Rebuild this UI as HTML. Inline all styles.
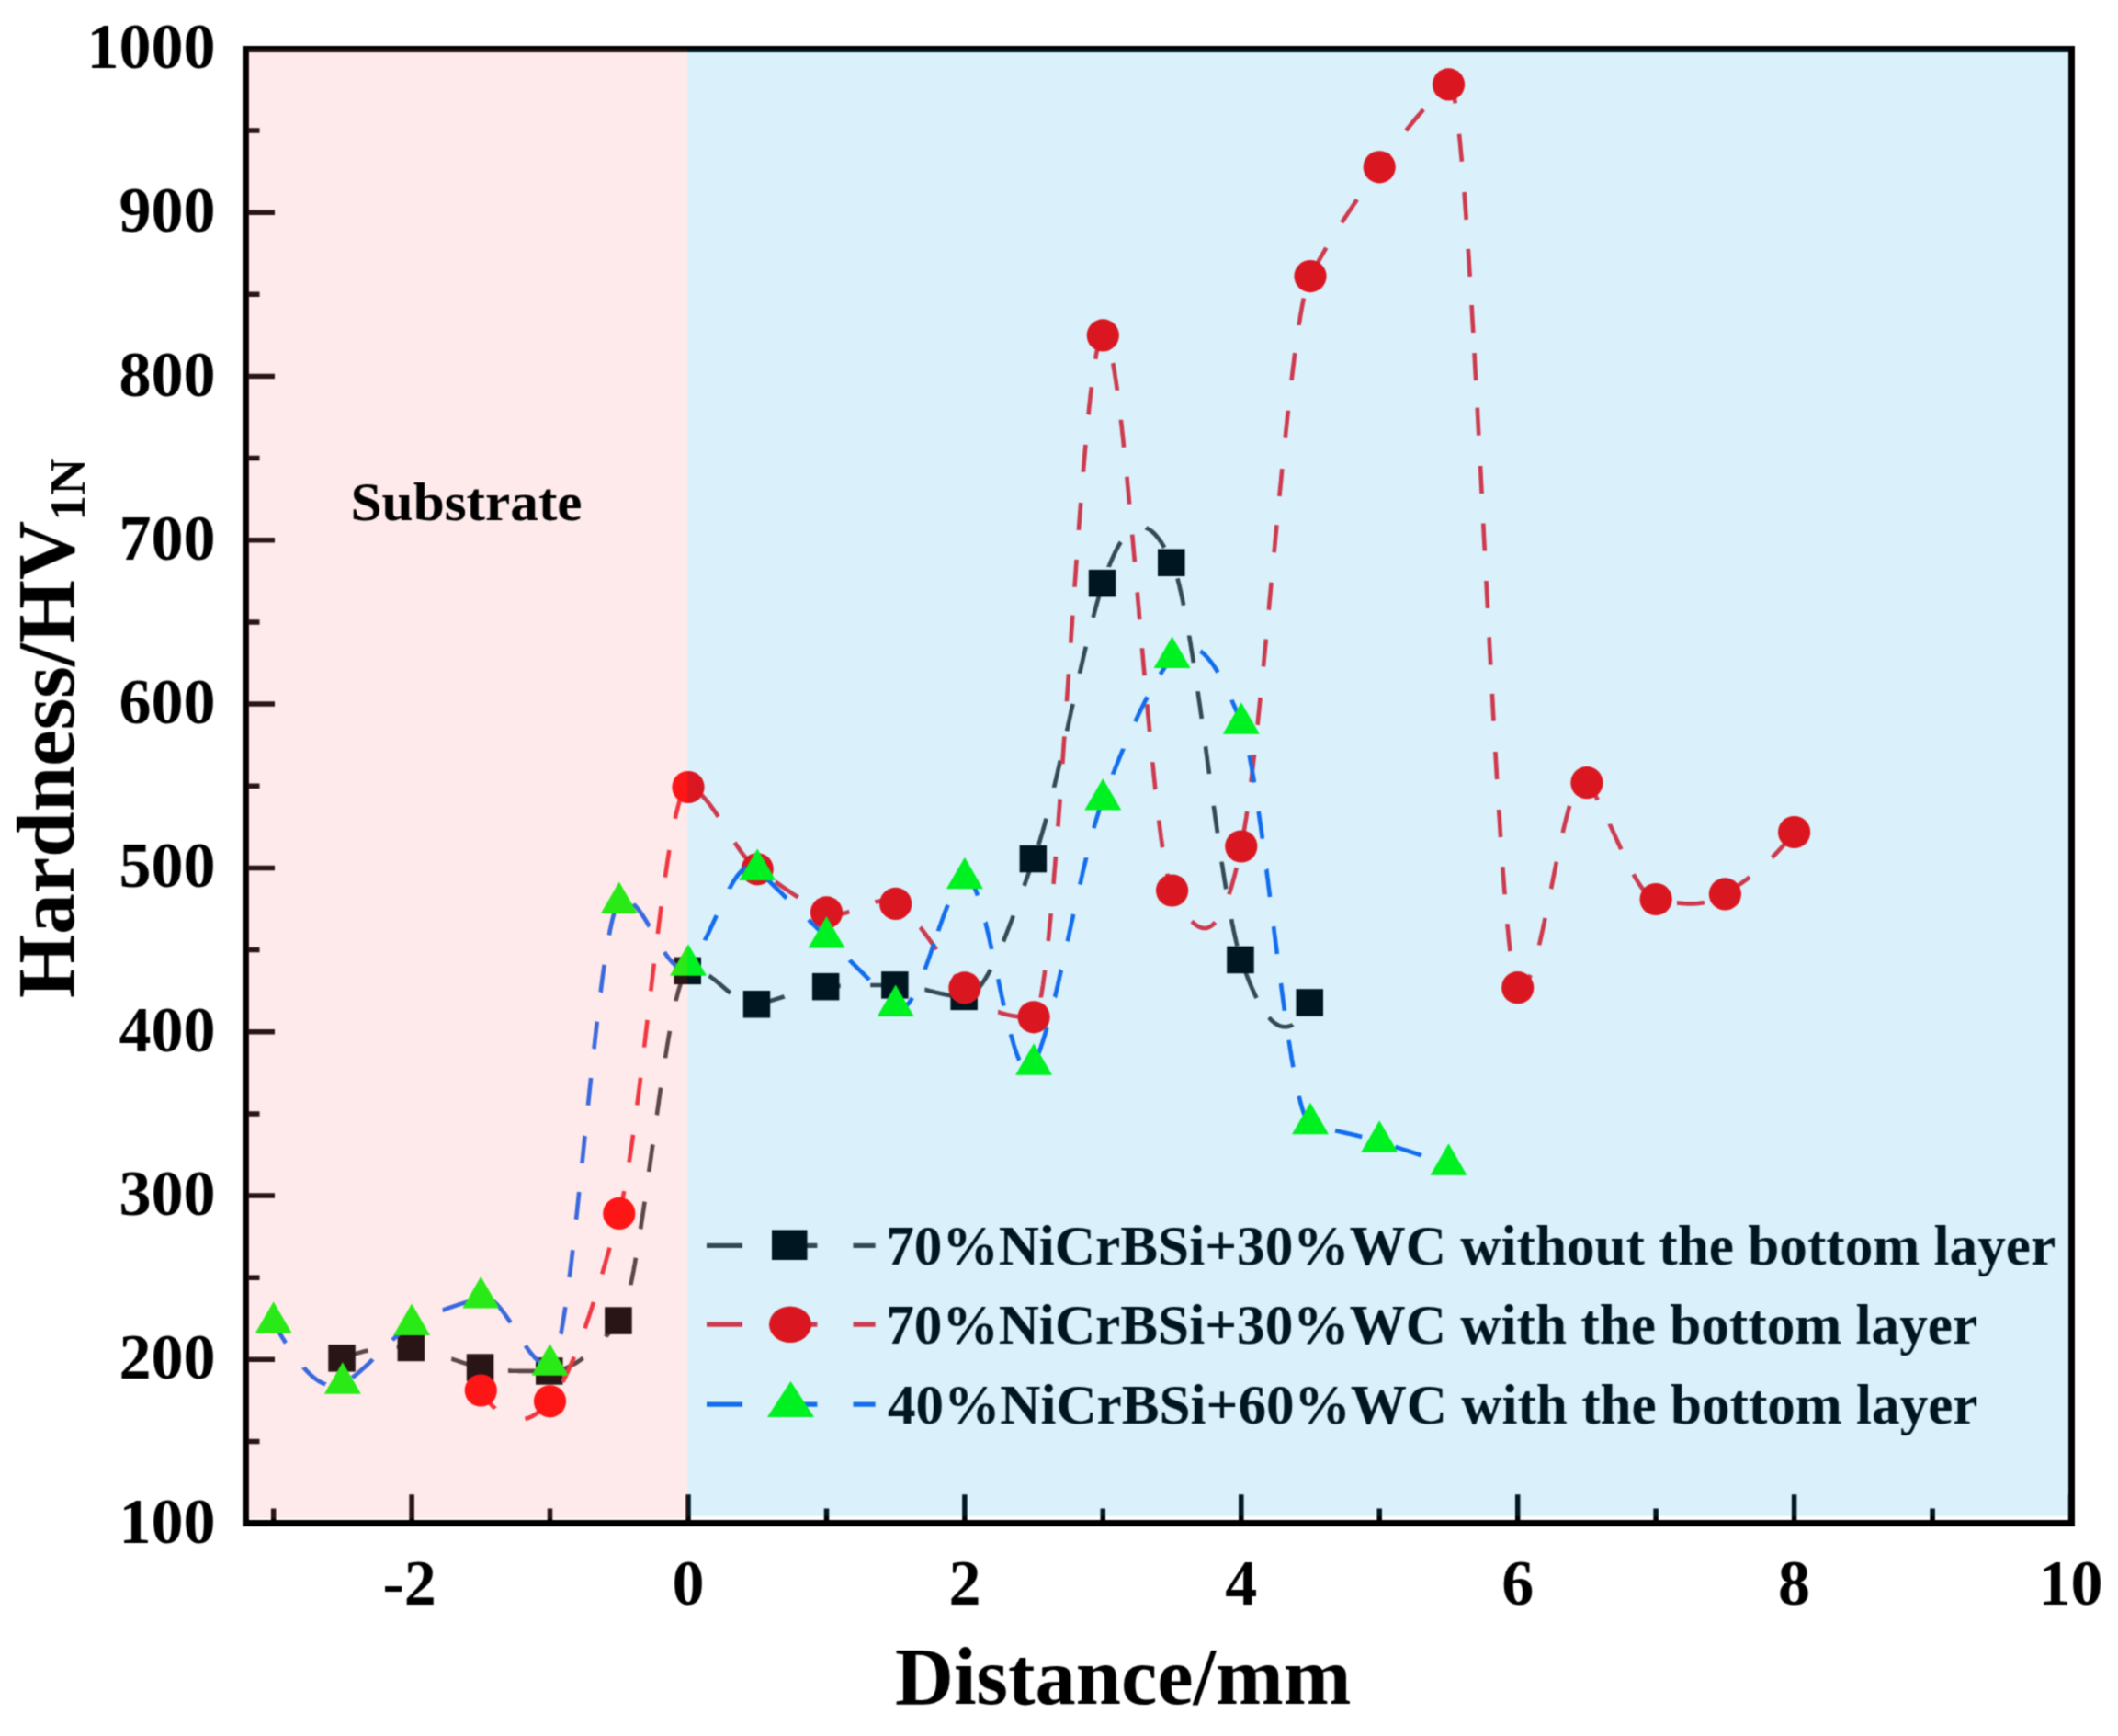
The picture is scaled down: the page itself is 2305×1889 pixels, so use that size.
<!DOCTYPE html><html><head><meta charset="utf-8"><style>html,body{margin:0;padding:0;background:#fff}svg{display:block}text{font-family:"Liberation Serif","Times New Roman",serif;font-weight:bold}</style></head><body>
<svg width="2305" height="1889" viewBox="0 0 2305 1889">
<defs><filter id="soft" x="0" y="0" width="2305" height="1889" filterUnits="userSpaceOnUse" color-interpolation-filters="sRGB"><feConvolveMatrix order="3" kernelMatrix="0.0484 0.1232 0.0484 0.1232 0.3136 0.1232 0.0484 0.1232 0.0484" edgeMode="duplicate"/></filter></defs>
<g filter="url(#soft)">
<rect width="2305" height="1889" fill="#fff"/>
<defs><clipPath id="pc"><rect x="267.5" y="53.5" width="1987.0" height="1604.0"/></clipPath></defs>
<g>
<path d="M267.5 1657.6h31.5 M267.5 1568.5h15 M267.5 1479.3h31.5 M267.5 1390.2h15 M267.5 1301.0h31.5 M267.5 1211.9h15 M267.5 1122.7h31.5 M267.5 1033.5h15 M267.5 944.4h31.5 M267.5 855.2h15 M267.5 766.1h31.5 M267.5 676.9h15 M267.5 587.8h31.5 M267.5 498.6h15 M267.5 409.5h31.5 M267.5 320.3h15 M267.5 231.2h31.5 M267.5 142.0h15 M267.5 52.9h31.5 M297.7 1657.5v-16 M448.1 1657.5v-31.2 M598.5 1657.5v-16 M749.0 1657.5v-31.2 M899.5 1657.5v-16 M1049.9 1657.5v-31.2 M1200.3 1657.5v-16 M1350.8 1657.5v-31.2 M1501.2 1657.5v-16 M1651.7 1657.5v-31.2 M1802.1 1657.5v-16 M1952.6 1657.5v-31.2 M2103.1 1657.5v-16 M2253.5 1657.5v-31.2" stroke="#000" stroke-width="5.5" fill="none"/>
<path d="M372.9 1477.9 L373.1 1477.8 L373.8 1477.5 L374.6 1477.3 L375.3 1477.0 L376.1 1476.7 L376.8 1476.4 L377.6 1476.2 L378.3 1475.9 L379.1 1475.7 L379.8 1475.4 L380.6 1475.1 L381.3 1474.9 L382.1 1474.6 L382.8 1474.4 L383.6 1474.1 L384.3 1473.9 L385.1 1473.7 L385.9 1473.4 L386.6 1473.2 L387.4 1473.0 L388.1 1472.7 L388.9 1472.5 L389.6 1472.3 L390.4 1472.1 L391.1 1471.9 L391.9 1471.6 L392.6 1471.4 L393.4 1471.2 L394.1 1471.0 L394.9 1470.8 L395.6 1470.6 L396.4 1470.4 L397.1 1470.2 L397.9 1470.1 L398.6 1469.9 L399.4 1469.7 L400.1 1469.5 L400.5 1469.4 M431.7 1465.5 L431.7 1465.5 L432.5 1465.5 L433.2 1465.5 L434.0 1465.5 L434.7 1465.5 L435.5 1465.5 L436.3 1465.5 L437.0 1465.5 L437.8 1465.6 L438.5 1465.6 L439.3 1465.6 L440.0 1465.7 L440.8 1465.7 L441.5 1465.8 L442.3 1465.8 L443.0 1465.9 L443.8 1466.0 L444.5 1466.0 L445.3 1466.1 L446.0 1466.2 L446.8 1466.3 L447.5 1466.4 L448.3 1466.5 L449.0 1466.6 L449.8 1466.7 L450.5 1466.8 L451.3 1466.9 L452.0 1467.1 L452.8 1467.2 L453.6 1467.3 L454.3 1467.5 L455.1 1467.6 L455.8 1467.8 L456.6 1467.9 L457.3 1468.1 L458.1 1468.3 L458.8 1468.4 L459.6 1468.6 L460.3 1468.8 L461.1 1469.0 L461.4 1469.1 M491.4 1478.6 L491.5 1478.6 L492.3 1478.9 L493.0 1479.2 L493.8 1479.4 L494.6 1479.7 L495.3 1479.9 L496.1 1480.2 L496.8 1480.4 L497.6 1480.7 L498.3 1481.0 L499.1 1481.2 L499.8 1481.5 L500.6 1481.7 L501.3 1482.0 L502.1 1482.2 L502.8 1482.5 L503.6 1482.7 L504.3 1482.9 L505.1 1483.2 L505.8 1483.4 L506.6 1483.6 L507.3 1483.9 L508.1 1484.1 L508.8 1484.3 L509.6 1484.6 L510.3 1484.8 L511.1 1485.0 L511.9 1485.2 L512.6 1485.4 L513.4 1485.6 L514.1 1485.8 L514.9 1486.0 L515.6 1486.2 L516.4 1486.4 L517.1 1486.6 L517.9 1486.8 L518.6 1487.0 L519.4 1487.2 L520.0 1487.3 M552.9 1491.5 L553.0 1491.5 L553.8 1491.5 L554.5 1491.6 L555.3 1491.6 L556.0 1491.6 L556.8 1491.7 L557.6 1491.7 L558.3 1491.7 L559.1 1491.7 L559.8 1491.8 L560.6 1491.8 L561.3 1491.8 L562.1 1491.8 L562.8 1491.8 L563.6 1491.8 L564.3 1491.9 L565.1 1491.9 L565.8 1491.9 L566.6 1491.9 L567.3 1491.9 L568.1 1491.9 L568.8 1491.9 L569.6 1491.9 L570.3 1491.9 L571.1 1491.9 L571.8 1491.9 L572.6 1491.9 L573.3 1491.9 L574.1 1491.9 L574.9 1491.9 L575.6 1491.9 L576.4 1491.9 L577.1 1491.9 L577.9 1491.9 L578.6 1491.9 L579.4 1491.9 L580.1 1491.9 L580.9 1491.9 L581.6 1491.9 L582.4 1491.9 L582.8 1491.9 M608.0 1491.0 L608.1 1490.9 L608.9 1490.8 L609.6 1490.6 L610.4 1490.4 L611.2 1490.2 L611.9 1490.0 L612.7 1489.7 L613.4 1489.5 L614.2 1489.2 L614.9 1488.9 L615.7 1488.7 L616.4 1488.4 L617.2 1488.0 L617.9 1487.7 L618.7 1487.4 L619.4 1487.0 L620.2 1486.7 L620.9 1486.3 L621.7 1485.9 L622.4 1485.5 L623.2 1485.1 L623.9 1484.7 L624.7 1484.3 L625.4 1483.9 L626.2 1483.4 L626.9 1483.0 L627.7 1482.5 L628.5 1482.0 L629.2 1481.5 L630.0 1481.0 L630.7 1480.5 L631.5 1480.0 L632.2 1479.5 L633.0 1478.9 L633.7 1478.4 L634.5 1477.8 L634.7 1477.7 M659.2 1454.5 L659.3 1454.3 L660.0 1453.5 L660.8 1452.6 L661.6 1451.8 L662.3 1450.9 L663.1 1450.1 L663.8 1449.2 L664.6 1448.3 L665.3 1447.4 L666.1 1446.5 L666.8 1445.6 L667.6 1444.7 L668.3 1443.8 L669.1 1442.9 L669.8 1442.0 L670.6 1441.0 L671.3 1440.1 L672.1 1439.2 L672.8 1438.2 L673.6 1437.3 L674.3 1436.3 L675.1 1435.1 L675.8 1433.7 L676.6 1432.2 L677.3 1430.7 M686.4 1398.2 L686.4 1398.1 L687.1 1394.5 L687.9 1390.8 L688.6 1387.0 L689.4 1383.1 L690.1 1379.1 L690.9 1374.9 L691.6 1370.7 L692.0 1368.7 M697.1 1337.3 L697.3 1336.3 L698.0 1331.4 L698.8 1326.5 L699.5 1321.4 L700.3 1316.4 L701.0 1311.3 L701.6 1307.7 M706.2 1275.0 L706.3 1274.3 L707.1 1269.0 L707.8 1263.6 L708.6 1258.2 L709.3 1252.7 L710.1 1247.3 L710.4 1245.3 M714.8 1213.4 L715.0 1212.3 L715.7 1207.0 L716.5 1201.7 L717.2 1196.4 L718.0 1191.2 L718.7 1186.0 L719.1 1183.7 M724.0 1151.3 L724.0 1151.2 L724.7 1146.5 L725.5 1141.9 L726.2 1137.3 L727.0 1132.8 L727.7 1128.4 L728.5 1124.1 L728.9 1121.8 M735.5 1089.3 L735.6 1088.5 L736.4 1085.4 L737.2 1082.5 L737.9 1079.6 L738.7 1076.9 L739.4 1074.4 L740.2 1072.0 L740.9 1069.7 L741.7 1067.6 L742.4 1065.7 L743.2 1064.0 L743.9 1062.4 L744.7 1060.9 L744.7 1060.9 M771.6 1061.7 L771.8 1061.8 L772.5 1062.4 L773.3 1062.9 L774.0 1063.4 L774.8 1064.0 L775.5 1064.5 L776.3 1065.1 L777.0 1065.7 L777.8 1066.2 L778.5 1066.8 L779.3 1067.4 L780.0 1068.1 L780.8 1068.7 L781.5 1069.3 L782.3 1069.9 L783.0 1070.6 L783.8 1071.2 L784.5 1071.9 L785.3 1072.5 L786.0 1073.1 L786.8 1073.8 L787.6 1074.4 L788.3 1075.1 L789.1 1075.7 L789.8 1076.4 L790.6 1077.0 L791.3 1077.7 L792.1 1078.3 L792.8 1078.9 L793.6 1079.6 L794.3 1080.2 L794.8 1080.6 M824.7 1092.6 L824.8 1092.6 L825.5 1092.4 L826.3 1092.3 L827.0 1092.1 L827.8 1091.9 L828.6 1091.7 L829.3 1091.5 L830.1 1091.3 L830.8 1091.1 L831.6 1090.9 L832.3 1090.7 L833.1 1090.5 L833.8 1090.3 L834.6 1090.1 L835.3 1089.9 L836.1 1089.7 L836.8 1089.5 L837.6 1089.3 L838.3 1089.0 L839.1 1088.8 L839.8 1088.6 L840.6 1088.4 L841.3 1088.2 L842.1 1087.9 L842.8 1087.7 L843.6 1087.5 L844.3 1087.2 L845.1 1087.0 L845.9 1086.8 L846.6 1086.5 L847.4 1086.3 L848.1 1086.1 L848.9 1085.8 L849.6 1085.6 L850.4 1085.4 L851.1 1085.1 L851.9 1084.9 L852.6 1084.6 L853.4 1084.4 L853.6 1084.3 M884.9 1075.7 L885.0 1075.7 L885.7 1075.5 L886.5 1075.4 L887.2 1075.2 L888.0 1075.1 L888.7 1075.0 L889.5 1074.9 L890.2 1074.7 L891.0 1074.6 L891.7 1074.5 L892.5 1074.4 L893.2 1074.3 L894.0 1074.2 L894.7 1074.1 L895.5 1074.0 L896.3 1073.9 L897.0 1073.9 L897.8 1073.8 L898.5 1073.7 L899.3 1073.7 L900.0 1073.6 L900.8 1073.6 L901.5 1073.5 L902.3 1073.5 L903.0 1073.4 L903.8 1073.4 L904.5 1073.3 L905.3 1073.3 L906.0 1073.2 L906.8 1073.2 L907.5 1073.2 L908.3 1073.1 L909.0 1073.1 L909.8 1073.0 L910.5 1073.0 L911.3 1073.0 L912.1 1072.9 L912.8 1072.9 L913.6 1072.9 L914.3 1072.8 L914.7 1072.8 M947.2 1072.0 L947.4 1072.0 L948.2 1072.0 L948.9 1072.0 L949.7 1072.0 L950.4 1072.0 L951.2 1072.0 L951.9 1072.0 L952.7 1072.0 L953.4 1072.0 L954.2 1072.0 L954.9 1072.0 L955.7 1072.0 L956.4 1072.0 L957.2 1072.0 L957.9 1072.0 L958.7 1072.0 L959.4 1072.0 L960.2 1071.9 L960.9 1071.9 L961.7 1071.9 L962.5 1071.9 L963.2 1071.9 L964.0 1071.9 L964.7 1071.9 L965.5 1071.9 L966.2 1071.9 L967.0 1071.9 L967.7 1071.9 L968.5 1071.9 L969.2 1071.9 L970.0 1071.9 L970.7 1071.9 L971.5 1071.9 L972.2 1071.9 L973.0 1071.9 L973.7 1071.9 L974.5 1071.9 L975.2 1071.9 L976.0 1071.9 L976.7 1071.9 L977.2 1071.9 M1006.5 1076.8 L1006.6 1076.8 L1007.4 1077.0 L1008.2 1077.2 L1008.9 1077.4 L1009.7 1077.6 L1010.4 1077.8 L1011.2 1078.0 L1011.9 1078.2 L1012.7 1078.4 L1013.4 1078.6 L1014.2 1078.8 L1014.9 1078.9 L1015.7 1079.1 L1016.4 1079.3 L1017.2 1079.5 L1017.9 1079.7 L1018.7 1079.9 L1019.4 1080.1 L1020.2 1080.3 L1020.9 1080.4 L1021.7 1080.6 L1022.4 1080.8 L1023.2 1081.0 L1023.9 1081.1 L1024.7 1081.3 L1025.5 1081.5 L1026.2 1081.6 L1027.0 1081.8 L1027.7 1082.0 L1028.5 1082.1 L1029.2 1082.3 L1030.0 1082.4 L1030.7 1082.6 L1031.5 1082.7 L1032.2 1082.8 L1033.0 1083.0 L1033.7 1083.1 L1034.5 1083.2 L1035.2 1083.3 L1035.8 1083.4 M1060.7 1079.5 L1060.8 1079.4 L1061.6 1078.7 L1062.3 1078.0 L1063.1 1077.2 L1063.8 1076.4 L1064.6 1075.6 L1065.3 1074.7 L1066.1 1073.8 L1066.8 1072.9 L1067.6 1071.9 L1068.3 1070.9 L1069.1 1069.8 L1069.8 1068.7 L1070.6 1067.6 L1071.3 1066.5 L1072.1 1065.3 L1072.8 1064.1 L1073.6 1062.9 L1074.3 1061.6 L1075.1 1060.3 L1075.9 1058.9 L1076.6 1057.6 L1077.4 1056.2 L1077.9 1055.1 M1091.9 1024.4 L1092.0 1024.2 L1092.8 1022.4 L1093.5 1020.5 L1094.3 1018.6 L1095.0 1016.7 L1095.8 1014.8 L1096.5 1012.9 L1097.3 1010.9 L1098.0 1009.0 L1098.8 1007.0 L1099.5 1005.0 L1100.3 1003.0 L1101.1 1001.0 L1101.8 999.0 L1102.6 997.0 L1102.8 996.4 M1114.6 963.8 L1114.8 963.3 L1115.5 961.2 L1116.3 959.1 L1117.0 957.0 L1117.8 954.9 L1118.5 952.8 L1119.3 950.7 L1120.0 948.6 L1120.8 946.5 L1121.6 944.4 L1122.3 942.3 L1123.1 940.3 L1123.8 938.2 L1124.6 936.1 L1124.8 935.6 M1130.3 919.4 L1130.4 919.0 L1131.1 916.6 L1131.9 914.2 L1132.6 911.7 L1133.4 909.1 L1134.2 906.5 L1134.9 903.9 L1135.7 901.3 L1136.4 898.6 L1137.2 895.8 L1137.9 893.1 L1138.6 890.6 M1147.1 856.7 L1147.1 856.6 L1147.9 853.4 L1148.6 850.2 L1149.4 847.0 L1150.1 843.8 L1150.9 840.6 L1151.6 837.3 L1152.4 834.1 L1153.1 830.8 L1153.9 827.5 L1153.9 827.5 M1161.1 795.3 L1161.2 794.7 L1162.0 791.3 L1162.7 787.9 L1163.5 784.5 L1164.2 781.1 L1165.0 777.6 L1165.7 774.2 L1166.5 770.8 L1167.3 767.4 L1167.6 766.0 M1175.0 732.8 L1175.1 732.0 L1175.9 728.7 L1176.7 725.4 L1177.4 722.1 L1178.2 718.9 L1178.9 715.6 L1179.7 712.4 L1180.4 709.2 L1181.2 706.0 L1181.7 703.6 M1189.6 671.9 L1189.8 671.1 L1190.6 668.3 L1191.3 665.5 L1192.1 662.7 L1192.8 660.0 L1193.6 657.2 L1194.3 654.6 L1195.1 651.9 L1195.8 649.4 L1196.6 646.8 L1197.3 644.3 L1197.7 643.0 M1206.7 616.9 L1206.7 616.7 L1207.5 614.8 L1208.2 612.9 L1209.0 611.1 L1209.8 609.3 L1210.5 607.6 L1211.3 605.9 L1212.0 604.3 L1212.8 602.7 L1213.5 601.1 L1214.3 599.6 L1215.0 598.1 L1215.8 596.7 L1216.5 595.3 L1217.3 594.0 L1218.0 592.7 L1218.8 591.4 L1219.5 590.2 L1219.7 589.9 M1247.1 574.3 L1247.2 574.4 L1247.9 574.7 L1248.7 575.1 L1249.4 575.5 L1250.2 575.9 L1250.9 576.4 L1251.7 576.9 L1252.4 577.4 L1253.2 578.0 L1253.9 578.6 L1254.7 579.3 L1255.5 580.0 L1256.2 580.7 L1257.0 581.5 L1257.7 582.3 L1258.5 583.2 L1259.2 584.1 L1260.0 585.0 L1260.7 585.9 L1261.5 586.9 L1262.2 588.0 L1263.0 589.0 L1263.7 590.1 L1264.5 591.3 L1265.2 592.5 L1266.0 593.7 L1266.7 594.9 L1267.3 595.8 M1281.4 629.4 L1281.4 629.4 L1282.2 632.2 L1282.9 635.2 L1283.7 638.2 L1284.4 641.4 L1285.2 644.6 L1285.9 648.0 L1286.7 651.5 L1287.4 655.1 L1288.1 658.6 M1294.2 691.5 L1294.2 691.8 L1294.9 696.3 L1295.7 700.8 L1296.4 705.5 L1297.2 710.2 L1298.0 715.0 L1298.7 719.8 L1298.9 721.1 M1303.6 752.3 L1303.6 752.6 L1304.3 757.8 L1305.1 763.1 L1305.9 768.4 L1306.6 773.7 L1307.4 779.1 L1307.8 782.0 M1311.9 812.3 L1312.1 813.1 L1312.8 818.6 L1313.6 824.1 L1314.3 829.6 L1315.1 835.1 L1315.8 840.6 L1316.0 842.0 M1320.8 876.7 L1320.9 877.6 L1321.7 883.0 L1322.4 888.3 L1323.2 893.7 L1323.9 899.0 L1324.7 904.3 L1325.0 906.4 M1329.6 937.6 L1329.7 938.8 L1330.5 943.7 L1331.2 948.5 L1332.0 953.3 L1332.7 958.0 L1333.5 962.7 L1334.2 967.3 M1340.1 1000.1 L1340.3 1001.1 L1341.0 1004.9 L1341.8 1008.6 L1342.5 1012.2 L1343.3 1015.7 L1344.0 1019.1 L1344.8 1022.4 L1345.5 1025.6 L1346.3 1028.7 L1346.5 1029.4 M1355.8 1058.4 L1355.9 1058.8 L1356.6 1060.8 L1357.4 1062.7 L1358.1 1064.7 L1358.9 1066.6 L1359.6 1068.4 L1360.4 1070.3 L1361.1 1072.1 L1361.9 1073.8 L1362.6 1075.6 L1363.4 1077.3 L1364.2 1078.9 L1364.9 1080.6 L1365.7 1082.2 L1366.4 1083.7 L1367.2 1085.3 L1367.5 1086.0 M1380.9 1107.1 L1381.1 1107.3 L1381.8 1108.1 L1382.6 1108.9 L1383.3 1109.7 L1384.1 1110.4 L1384.8 1111.1 L1385.6 1111.8 L1386.3 1112.4 L1387.1 1113.0 L1387.8 1113.5 L1388.6 1114.0 L1389.4 1114.5 L1390.1 1115.0 L1390.9 1115.4 L1391.6 1115.7 L1392.4 1116.1 L1393.1 1116.4 L1393.9 1116.6 L1394.6 1116.8 L1395.4 1117.0 L1396.1 1117.1 L1396.9 1117.2 L1397.6 1117.3 L1398.4 1117.3 L1399.1 1117.3 L1399.9 1117.3 L1400.6 1117.2 L1401.4 1117.0 L1402.1 1116.9 L1402.9 1116.7 L1403.6 1116.4 L1404.4 1116.2 L1405.2 1115.8 L1405.9 1115.5 L1406.7 1115.1 L1407.0 1114.8" fill="none" stroke="#3c3c3c" stroke-width="4.6" stroke-linecap="butt" stroke-linejoin="round"/>
<rect x="357.3" y="1463.1" width="29.5" height="29.5" fill="#000000"/>
<rect x="432.6" y="1451.7" width="29.5" height="29.5" fill="#000000"/>
<rect x="507.8" y="1473.3" width="29.5" height="29.5" fill="#000000"/>
<rect x="583.0" y="1477.2" width="29.5" height="29.5" fill="#000000"/>
<rect x="658.2" y="1422.3" width="29.5" height="29.5" fill="#000000"/>
<rect x="733.5" y="1041.6" width="29.5" height="29.5" fill="#000000"/>
<rect x="808.7" y="1078.0" width="29.5" height="29.5" fill="#000000"/>
<rect x="883.9" y="1058.9" width="29.5" height="29.5" fill="#000000"/>
<rect x="959.1" y="1057.1" width="29.5" height="29.5" fill="#000000"/>
<rect x="1034.4" y="1069.6" width="29.5" height="29.5" fill="#000000"/>
<rect x="1109.6" y="919.8" width="29.5" height="29.5" fill="#000000"/>
<rect x="1184.8" y="619.9" width="29.5" height="29.5" fill="#000000"/>
<rect x="1260.0" y="597.5" width="29.5" height="29.5" fill="#000000"/>
<rect x="1335.2" y="1029.7" width="29.5" height="29.5" fill="#000000"/>
<rect x="1410.5" y="1076.2" width="29.5" height="29.5" fill="#000000"/>
<path d="M523.3 1513.0 L523.5 1513.3 L524.3 1514.5 L525.0 1515.6 L525.8 1516.8 L526.5 1517.9 L527.3 1519.0 L528.0 1520.0 L528.8 1521.1 L529.5 1522.1 L530.3 1523.1 L531.0 1524.1 L531.8 1525.0 L532.5 1525.9 L533.3 1526.8 L534.0 1527.7 L534.8 1528.6 L535.5 1529.4 L536.3 1530.2 L537.1 1531.0 L537.8 1531.8 L538.6 1532.5 L538.7 1532.7 M571.5 1544.0 L571.5 1544.0 L572.2 1543.8 L573.0 1543.5 L573.7 1543.3 L574.5 1543.1 L575.2 1542.8 L576.0 1542.5 L576.7 1542.2 L577.5 1541.8 L578.2 1541.5 L579.0 1541.1 L579.7 1540.7 L580.5 1540.3 L581.2 1539.8 L582.0 1539.4 L582.8 1538.9 L583.5 1538.4 L584.3 1537.9 L585.0 1537.4 L585.8 1536.9 L586.5 1536.3 L587.3 1535.7 L588.0 1535.1 L588.8 1534.5 L589.5 1533.8 L590.3 1533.2 L591.0 1532.5 L591.8 1531.8 L592.5 1531.1 L593.3 1530.4 L594.0 1529.6 L594.8 1528.9 L595.5 1528.1 L596.1 1527.5 M612.4 1503.7 L612.5 1503.5 L613.2 1502.1 L614.0 1500.6 L614.7 1499.1 L615.5 1497.6 L616.2 1496.0 L617.0 1494.5 L617.7 1492.9 L618.5 1491.3 L619.2 1489.6 L620.0 1487.9 L620.7 1486.3 L621.5 1484.5 L622.2 1482.8 L623.0 1481.0 L623.8 1479.2 L624.5 1477.4 L624.9 1476.5 M636.5 1445.4 L636.5 1445.4 L637.3 1443.2 L638.0 1441.0 L638.8 1438.8 L639.5 1436.6 L640.3 1434.3 L641.1 1432.1 L641.8 1429.8 L642.6 1427.5 L643.3 1425.2 L644.1 1422.8 L644.8 1420.5 L645.6 1418.1 L645.9 1416.9 M655.2 1386.4 L655.3 1386.0 L656.1 1383.5 L656.8 1380.9 L657.6 1378.3 L658.4 1375.7 L659.1 1373.1 L659.9 1370.5 L660.6 1367.9 L661.4 1365.2 L662.1 1362.6 L662.9 1359.9 L663.5 1357.6 M672.4 1325.3 L672.5 1325.3 L673.2 1322.5 L674.0 1319.7 L674.7 1316.8 L675.5 1313.8 L676.2 1310.5 L677.0 1307.2 L677.7 1303.6 L678.5 1300.0 L679.2 1296.1 M684.7 1264.6 L684.7 1264.4 L685.4 1259.5 L686.2 1254.5 L686.9 1249.5 L687.7 1244.3 L688.4 1239.0 L689.0 1234.9 M693.3 1202.5 L693.5 1201.1 L694.3 1195.2 L695.0 1189.3 L695.8 1183.3 L696.5 1177.2 L697.1 1172.8 M701.1 1139.7 L701.2 1138.3 L702.0 1132.0 L702.7 1125.6 L703.5 1119.3 L704.2 1112.9 L704.6 1109.9 M708.3 1078.3 L708.4 1077.7 L709.1 1071.3 L709.9 1065.0 L710.6 1058.6 L711.4 1052.3 L711.8 1048.5 M715.8 1016.1 L715.9 1015.2 L716.7 1009.2 L717.4 1003.2 L718.2 997.3 L718.9 991.5 L719.6 986.3 M723.9 954.6 L724.0 954.0 L724.7 948.8 L725.5 943.7 L726.2 938.7 L727.0 933.8 L727.7 929.1 L728.4 925.0 M734.7 890.8 L734.9 889.9 L735.6 886.5 L736.4 883.3 L737.2 880.3 L737.9 877.4 L738.7 874.7 L739.4 872.1 L740.2 869.7 L740.9 867.6 L741.7 865.5 L742.4 863.7 L743.2 862.1 L743.2 862.1 M763.4 865.0 L763.5 865.1 L764.2 865.9 L765.0 866.6 L765.7 867.4 L766.5 868.3 L767.2 869.1 L768.0 870.0 L768.7 870.8 L769.5 871.7 L770.3 872.7 L771.0 873.6 L771.8 874.6 L772.5 875.5 L773.3 876.5 L774.0 877.6 L774.8 878.6 L775.5 879.6 L776.3 880.7 L777.0 881.8 L777.8 882.8 L778.5 883.9 L779.3 885.0 L780.0 886.2 L780.8 887.3 L781.5 888.4 L781.7 888.7 M799.6 916.7 L799.8 917.0 L800.5 918.1 L801.3 919.2 L802.0 920.3 L802.8 921.5 L803.5 922.6 L804.3 923.6 L805.0 924.7 L805.8 925.8 L806.5 926.8 L807.3 927.9 L808.1 928.9 L808.8 929.9 L809.6 930.9 L810.3 931.9 L811.1 932.8 L811.8 933.7 L812.6 934.7 L813.3 935.5 L814.1 936.4 L814.8 937.3 L815.6 938.1 L816.3 938.9 L817.1 939.7 L817.8 940.4 M843.8 959.5 L844.0 959.6 L844.7 960.1 L845.5 960.6 L846.2 961.2 L847.0 961.7 L847.7 962.2 L848.5 962.8 L849.2 963.3 L850.0 963.8 L850.7 964.3 L851.5 964.9 L852.2 965.4 L853.0 965.9 L853.8 966.4 L854.5 967.0 L855.3 967.5 L856.0 968.0 L856.8 968.5 L857.5 969.0 L858.3 969.5 L859.0 970.0 L859.8 970.5 L860.5 971.1 L861.3 971.6 L862.0 972.1 L862.8 972.6 L863.5 973.1 L864.3 973.6 L865.0 974.1 L865.8 974.5 L866.5 975.0 L867.3 975.5 L868.0 976.0 L868.6 976.4 M895.2 991.1 L895.3 991.1 L896.1 991.5 L896.8 991.8 L897.6 992.1 L898.3 992.4 L899.1 992.7 L899.8 993.0 L900.6 993.3 L901.3 993.6 L902.1 993.8 L902.8 994.0 L903.6 994.2 L904.3 994.4 L905.1 994.5 L905.8 994.6 L906.6 994.7 L907.3 994.8 L908.1 994.8 L908.9 994.9 L909.6 994.9 L910.4 994.9 L911.1 994.8 L911.9 994.8 L912.6 994.7 L913.4 994.7 L914.1 994.6 L914.9 994.5 L915.6 994.4 L916.4 994.2 L917.1 994.1 L917.9 993.9 L918.6 993.7 L919.4 993.6 L920.1 993.4 L920.9 993.2 L921.6 992.9 L922.4 992.7 L923.1 992.5 L923.9 992.2 L924.3 992.1 M952.5 981.5 L952.5 981.5 L953.2 981.3 L954.0 981.1 L954.7 981.0 L955.5 980.8 L956.2 980.7 L957.0 980.6 L957.7 980.5 L958.5 980.4 L959.3 980.3 L960.0 980.3 L960.8 980.3 L961.5 980.3 L962.3 980.3 L963.0 980.3 L963.8 980.3 L964.5 980.4 L965.3 980.5 L966.0 980.6 L966.8 980.7 L967.5 980.8 L968.3 981.0 L969.0 981.2 L969.8 981.4 L970.5 981.7 L971.3 981.9 L972.0 982.2 L972.8 982.5 L973.5 982.9 L974.3 983.3 L975.1 983.6 L975.8 984.1 L976.6 984.5 L977.3 985.0 L978.1 985.5 L978.8 986.0 L979.6 986.5 L980.3 987.0 L980.7 987.3 M1001.5 1009.0 L1001.6 1009.1 L1002.3 1010.0 L1003.1 1011.0 L1003.8 1012.0 L1004.6 1013.0 L1005.3 1014.0 L1006.1 1015.0 L1006.8 1016.0 L1007.6 1017.0 L1008.3 1018.1 L1009.1 1019.1 L1009.8 1020.1 L1010.6 1021.2 L1011.3 1022.2 L1012.1 1023.3 L1012.9 1024.4 L1013.6 1025.4 L1014.4 1026.5 L1015.1 1027.6 L1015.9 1028.7 L1016.6 1029.7 L1017.4 1030.8 L1018.1 1031.9 L1018.9 1033.0 L1019.1 1033.3 M1038.4 1060.7 L1038.4 1060.7 L1039.2 1061.7 L1039.9 1062.7 L1040.7 1063.7 L1041.4 1064.7 L1042.2 1065.6 L1042.9 1066.6 L1043.7 1067.5 L1044.4 1068.5 L1045.2 1069.4 L1046.0 1070.3 L1046.7 1071.2 L1047.5 1072.1 L1048.2 1073.0 L1049.0 1073.8 L1049.7 1074.7 L1050.5 1075.5 L1051.2 1076.4 L1052.0 1077.2 L1052.7 1078.0 L1053.5 1078.8 L1054.2 1079.5 L1055.0 1080.3 L1055.7 1081.0 L1056.5 1081.8 L1057.2 1082.5 L1058.0 1083.2 L1058.1 1083.3 M1086.2 1101.1 L1086.4 1101.1 L1087.1 1101.4 L1087.9 1101.7 L1088.6 1102.0 L1089.4 1102.2 L1090.1 1102.4 L1090.9 1102.7 L1091.6 1102.9 L1092.4 1103.1 L1093.2 1103.3 L1093.9 1103.6 L1094.7 1103.7 L1095.4 1103.9 L1096.2 1104.1 L1096.9 1104.3 L1097.7 1104.5 L1098.4 1104.6 L1099.2 1104.8 L1099.9 1104.9 L1100.7 1105.1 L1101.4 1105.2 L1102.2 1105.3 L1102.9 1105.5 L1103.7 1105.6 L1104.4 1105.7 L1105.2 1105.8 L1105.9 1105.9 L1106.7 1106.0 L1107.4 1106.1 L1108.2 1106.1 L1109.0 1106.2 L1109.7 1106.3 L1110.5 1106.4 L1111.2 1106.4 L1112.0 1106.5 L1112.7 1106.5 L1113.5 1106.6 L1114.2 1106.6 L1115.0 1106.7 L1115.5 1106.7 M1132.8 1085.4 L1132.8 1085.1 L1133.6 1080.8 L1134.3 1076.2 L1135.1 1071.3 L1135.8 1066.0 L1136.6 1060.5 L1137.2 1055.7 M1140.8 1024.0 L1140.9 1022.7 L1141.7 1015.2 L1142.4 1007.5 L1143.2 999.5 L1143.7 994.1 M1146.5 961.9 L1146.6 960.9 L1147.3 951.8 L1148.1 942.5 L1148.8 933.0 L1148.9 932.0 M1151.4 899.4 L1151.5 898.6 L1152.2 888.4 L1153.0 878.1 L1153.6 869.5 M1156.3 831.3 L1156.3 830.6 L1157.1 819.8 L1157.8 808.9 L1158.4 801.4 M1161.0 763.3 L1161.0 762.1 L1161.8 751.1 L1162.5 740.0 L1163.0 733.3 M1165.3 699.6 L1165.4 698.4 L1166.1 687.4 L1166.9 676.4 L1167.3 669.7 M1169.5 638.7 L1169.5 638.3 L1170.3 627.6 L1171.0 617.0 L1171.6 608.8 M1173.9 576.9 L1174.0 575.6 L1174.8 565.5 L1175.5 555.6 L1176.2 547.0 M1178.9 513.7 L1178.9 513.0 L1179.7 504.0 L1180.4 495.2 L1181.2 486.6 L1181.4 483.8 M1184.5 451.2 L1184.6 450.8 L1185.3 443.5 L1186.1 436.5 L1186.8 429.7 L1187.6 423.3 L1187.8 421.3 M1192.1 390.8 L1192.3 389.8 L1193.0 385.6 L1193.8 381.8 L1194.5 378.4 L1195.3 375.3 L1196.0 372.6 L1196.8 370.3 L1197.5 368.4 L1198.3 366.9 L1199.0 365.8 L1199.8 365.1 L1200.5 364.9 L1201.3 365.0 L1202.0 365.5 L1202.3 365.8 M1211.2 395.1 L1211.3 395.5 L1212.0 399.7 L1212.8 404.2 L1213.5 408.9 L1214.3 413.8 L1215.0 418.9 L1215.8 424.3 L1215.8 424.7 M1219.9 456.8 L1219.9 457.2 L1220.7 463.8 L1221.4 470.5 L1222.2 477.4 L1222.9 484.5 L1223.1 486.7 M1226.4 518.7 L1226.5 519.8 L1227.2 527.6 L1228.0 535.5 L1228.7 543.5 L1229.2 548.6 M1232.2 581.6 L1232.3 582.7 L1233.1 591.1 L1233.8 599.6 L1234.6 608.2 L1234.9 611.5 M1237.7 644.3 L1237.8 645.0 L1238.5 653.8 L1239.3 662.5 L1240.0 671.2 L1240.3 674.2 M1243.0 705.2 L1243.0 706.1 L1243.8 714.8 L1244.5 723.4 L1245.3 732.0 L1245.6 735.1 M1248.3 766.3 L1248.5 767.9 L1249.2 776.2 L1250.0 784.4 L1250.8 792.5 L1251.1 796.1 M1254.3 829.3 L1254.3 829.6 L1255.1 837.1 L1255.8 844.5 L1256.6 851.7 L1257.3 858.8 L1257.4 859.1 M1261.2 892.5 L1261.3 893.3 L1262.0 899.3 L1262.8 905.1 L1263.5 910.8 L1264.3 916.2 L1265.0 921.4 L1265.2 922.2 M1270.1 950.7 L1270.1 950.7 L1270.9 954.1 L1271.6 957.2 L1272.4 960.1 L1273.1 962.7 L1273.9 964.9 L1274.6 966.9 L1275.4 968.6 L1276.1 970.1 L1276.9 971.6 L1277.6 973.0 L1278.4 974.4 L1279.1 975.8 L1279.9 977.2 L1280.7 978.6 L1280.7 978.6 M1297.0 1002.5 L1297.0 1002.5 L1297.8 1003.2 L1298.5 1004.0 L1299.3 1004.6 L1300.0 1005.3 L1300.8 1005.9 L1301.5 1006.5 L1302.3 1007.0 L1303.0 1007.5 L1303.8 1008.0 L1304.5 1008.4 L1305.3 1008.7 L1306.0 1009.1 L1306.8 1009.3 L1307.5 1009.6 L1308.3 1009.8 L1309.1 1009.9 L1309.8 1010.0 L1310.6 1010.0 L1311.3 1010.0 L1312.1 1010.0 L1312.8 1009.9 L1313.6 1009.7 L1314.3 1009.5 L1315.1 1009.2 L1315.8 1008.9 L1316.6 1008.5 L1317.3 1008.1 L1318.1 1007.6 L1318.8 1007.1 L1319.6 1006.5 L1320.3 1005.8 L1321.1 1005.1 L1321.8 1004.4 L1322.5 1003.6 M1337.6 973.0 L1337.6 972.9 L1338.4 970.6 L1339.1 968.2 L1339.9 965.8 L1340.6 963.3 L1341.4 960.7 L1342.1 958.0 L1342.9 955.2 L1343.7 952.4 L1344.4 949.4 L1345.2 946.4 L1345.7 944.2 M1352.4 912.5 L1352.5 912.2 L1353.2 908.0 L1354.0 903.5 L1354.7 899.0 L1355.5 894.2 L1356.3 889.3 L1357.0 884.2 L1357.2 882.9 M1361.4 851.1 L1361.5 850.4 L1362.3 844.3 L1363.0 838.0 L1363.8 831.7 L1364.5 825.2 L1365.0 821.3 M1368.5 788.8 L1368.7 787.5 L1369.4 780.3 L1370.2 773.1 L1370.9 765.8 L1371.6 759.0 M1374.9 725.4 L1375.1 724.1 L1375.8 716.4 L1376.6 708.6 L1377.3 700.7 L1377.8 695.5 M1380.8 663.7 L1380.9 662.8 L1381.6 654.8 L1382.4 646.7 L1383.1 638.7 L1383.6 633.8 M1386.6 601.2 L1386.7 600.3 L1387.5 592.3 L1388.2 584.2 L1389.0 576.2 L1389.4 571.3 M1392.4 540.0 L1392.5 538.6 L1393.3 530.8 L1394.1 523.0 L1394.8 515.3 L1395.3 510.1 M1398.7 476.7 L1398.8 476.0 L1399.5 468.7 L1400.3 461.6 L1401.0 454.5 L1401.8 447.5 L1401.8 446.8 M1405.6 413.9 L1405.7 412.6 L1406.5 406.3 L1407.2 400.2 L1408.0 394.2 L1408.7 388.3 L1409.3 384.1 M1413.6 354.0 L1413.6 353.6 L1414.4 348.9 L1415.1 344.4 L1415.9 340.0 L1416.6 335.8 L1417.4 331.8 L1418.1 328.0 L1418.9 324.4 M1428.6 295.7 L1428.7 295.6 L1429.4 294.2 L1430.2 292.8 L1430.9 291.4 L1431.7 290.1 L1432.4 288.7 L1433.2 287.3 L1433.9 286.0 L1434.7 284.6 L1435.4 283.3 L1436.2 281.9 L1436.9 280.6 L1437.7 279.3 L1438.4 278.0 L1439.2 276.7 L1439.9 275.4 L1440.7 274.1 L1441.4 272.8 L1442.2 271.5 L1443.0 270.2 L1443.3 269.6 M1460.3 242.1 L1460.4 241.9 L1461.2 240.8 L1461.9 239.6 L1462.7 238.5 L1463.4 237.3 L1464.2 236.2 L1465.0 235.0 L1465.7 233.9 L1466.5 232.7 L1467.2 231.6 L1468.0 230.5 L1468.7 229.3 L1469.5 228.2 L1470.2 227.1 L1471.0 226.0 L1471.7 224.8 L1472.5 223.7 L1473.2 222.6 L1474.0 221.5 L1474.7 220.4 L1475.5 219.3 L1476.2 218.2 L1476.9 217.2 M1494.5 191.7 L1494.5 191.6 L1495.2 190.5 L1496.0 189.5 L1496.7 188.4 L1497.5 187.3 L1498.2 186.2 L1499.0 185.1 L1499.7 184.0 L1500.5 182.9 L1501.2 181.8 L1502.0 180.7 L1502.8 179.6 L1503.5 178.5 L1504.3 177.5 L1505.0 176.4 L1505.8 175.3 L1506.5 174.2 L1507.3 173.1 L1508.0 172.1 L1508.8 171.0 L1509.5 169.9 L1510.3 168.9 L1511.0 167.8 L1511.6 167.0 M1530.1 142.2 L1530.2 142.1 L1531.0 141.1 L1531.7 140.1 L1532.5 139.2 L1533.2 138.2 L1534.0 137.3 L1534.7 136.4 L1535.5 135.4 L1536.2 134.5 L1537.0 133.6 L1537.7 132.7 L1538.5 131.7 L1539.2 130.8 L1540.0 129.9 L1540.7 129.0 L1541.5 128.1 L1542.2 127.2 L1543.0 126.3 L1543.8 125.4 L1544.5 124.6 L1545.3 123.7 L1546.0 122.8 L1546.8 122.0 L1547.5 121.1 L1548.3 120.2 L1549.0 119.4 L1549.2 119.2 M1571.4 96.4 L1571.6 96.3 L1572.3 95.6 L1573.1 94.9 L1573.8 94.3 L1574.6 93.6 L1575.3 92.9 L1576.1 92.3 L1576.9 91.7 L1577.6 91.6 L1578.4 92.2 L1579.1 93.3 L1579.9 94.9 L1580.6 97.1 L1581.4 99.9 L1582.1 103.2 L1582.9 106.9 L1583.6 111.2 L1583.8 112.4 M1588.0 145.8 L1588.1 146.8 L1588.9 154.3 L1589.6 162.1 L1590.4 170.4 L1590.9 175.7 M1593.5 209.0 L1593.6 209.7 L1594.3 219.8 L1595.1 230.3 L1595.7 239.0 M1597.8 270.8 L1597.9 272.2 L1598.7 284.1 L1599.4 296.2 L1599.7 300.8 M1601.6 332.0 L1601.7 333.9 L1602.4 346.8 L1603.2 360.0 L1603.3 362.0 M1604.5 384.1 L1604.7 387.0 L1605.4 400.7 L1606.2 414.0 M1607.8 443.7 L1607.9 446.2 L1608.6 460.4 L1609.3 473.7 M1611.1 507.1 L1611.1 507.4 L1611.8 522.0 L1612.6 536.7 L1612.6 537.0 M1614.3 569.5 L1614.3 569.7 L1615.0 584.5 L1615.8 599.2 L1615.8 599.4 M1617.5 631.9 L1617.5 632.3 L1618.2 646.9 L1619.0 661.5 L1619.0 661.9 M1620.6 693.4 L1620.7 694.1 L1621.4 708.4 L1622.2 722.7 L1622.2 723.4 M1623.9 754.8 L1624.1 757.8 L1624.8 771.6 L1625.5 784.7 M1627.4 818.1 L1627.4 818.6 L1628.2 831.6 L1628.9 844.4 L1629.2 848.0 M1631.2 881.1 L1631.2 881.5 L1632.0 893.3 L1632.7 904.9 L1633.1 911.0 M1635.3 943.2 L1635.3 943.3 L1636.1 953.6 L1636.8 963.5 L1637.6 973.1 L1637.6 973.2 M1640.4 1005.3 L1640.4 1005.8 L1641.2 1013.6 L1641.9 1021.0 L1642.7 1028.0 L1643.4 1034.6 L1643.5 1035.1 M1649.0 1068.6 L1649.1 1068.7 L1649.8 1071.1 L1650.6 1073.0 L1651.3 1074.3 L1652.1 1075.1 L1652.8 1075.6 L1653.6 1076.0 L1654.3 1076.2 L1655.1 1076.3 L1655.8 1076.1 L1656.6 1075.8 L1657.3 1075.4 L1658.1 1074.8 L1658.8 1074.0 L1659.6 1073.1 L1660.4 1072.1 L1661.1 1070.9 L1661.9 1069.6 L1662.6 1068.2 L1663.4 1066.6 L1664.1 1064.9 L1664.9 1063.1 L1665.6 1061.1 L1665.7 1060.9 M1675.1 1028.3 L1675.2 1027.7 L1676.0 1024.5 L1676.7 1021.2 L1677.5 1017.9 L1678.2 1014.6 L1679.0 1011.2 L1679.7 1007.7 L1680.5 1004.2 L1681.2 1000.6 L1681.6 999.0 M1688.0 967.2 L1688.2 966.5 L1688.9 962.8 L1689.7 959.0 L1690.4 955.2 L1691.2 951.5 L1691.9 947.8 L1692.7 944.0 L1693.4 940.3 L1694.0 937.8 M1700.8 906.0 L1700.8 905.9 L1701.5 902.6 L1702.3 899.4 L1703.0 896.3 L1703.8 893.2 L1704.5 890.2 L1705.3 887.3 L1706.1 884.4 L1706.8 881.6 L1707.6 879.0 L1708.1 876.9 M1720.2 850.4 L1720.3 850.3 L1721.1 849.8 L1721.8 849.5 L1722.6 849.3 L1723.4 849.3 L1724.1 849.5 L1724.9 849.8 L1725.6 850.4 L1726.4 851.0 L1727.1 851.9 L1727.9 852.9 L1728.6 853.8 L1729.4 854.9 L1730.1 855.9 L1730.9 857.0 L1731.6 858.1 L1732.4 859.3 L1733.1 860.4 L1733.9 861.6 L1734.6 862.9 L1735.4 864.1 L1736.1 865.4 L1736.9 866.7 L1737.6 868.1 L1738.4 869.4 L1738.9 870.4 M1751.9 896.8 L1751.9 897.0 L1752.7 898.7 L1753.4 900.3 L1754.2 902.0 L1754.9 903.6 L1755.7 905.3 L1756.5 907.0 L1757.2 908.6 L1758.0 910.3 L1758.7 912.0 L1759.5 913.6 L1760.2 915.3 L1761.0 917.0 L1761.7 918.6 L1762.5 920.3 L1763.2 921.9 L1764.0 923.6 L1764.2 924.2 M1777.7 951.4 L1777.9 951.8 L1778.6 953.1 L1779.4 954.4 L1780.1 955.7 L1780.9 957.0 L1781.7 958.3 L1782.4 959.5 L1783.2 960.7 L1783.9 961.8 L1784.7 962.9 L1785.4 964.0 L1786.2 965.1 L1786.9 966.1 L1787.7 967.1 L1788.4 968.1 L1789.2 969.0 L1789.9 969.9 L1790.7 970.8 L1791.4 971.6 L1792.2 972.3 L1792.9 973.1 L1793.7 973.8 L1794.4 974.4 L1795.2 975.0 L1795.6 975.3 M1825.0 982.4 L1825.1 982.4 L1825.8 982.5 L1826.6 982.6 L1827.4 982.7 L1828.1 982.8 L1828.9 982.9 L1829.6 982.9 L1830.4 983.0 L1831.1 983.1 L1831.9 983.1 L1832.6 983.2 L1833.4 983.2 L1834.1 983.3 L1834.9 983.3 L1835.6 983.4 L1836.4 983.4 L1837.1 983.4 L1837.9 983.4 L1838.6 983.4 L1839.4 983.4 L1840.1 983.4 L1840.9 983.4 L1841.6 983.4 L1842.4 983.4 L1843.1 983.4 L1843.9 983.4 L1844.7 983.3 L1845.4 983.3 L1846.2 983.2 L1846.9 983.2 L1847.7 983.1 L1848.4 983.0 L1849.2 982.9 L1849.9 982.8 L1850.7 982.7 L1851.4 982.6 L1852.2 982.5 L1852.9 982.4 L1853.7 982.3 L1854.4 982.1 L1854.9 982.0 M1879.5 971.6 L1879.6 971.5 L1880.4 971.0 L1881.1 970.5 L1881.9 970.0 L1882.6 969.5 L1883.4 969.1 L1884.1 968.6 L1884.9 968.1 L1885.6 967.6 L1886.4 967.1 L1887.2 966.6 L1887.9 966.1 L1888.7 965.5 L1889.4 965.0 L1890.2 964.5 L1890.9 964.0 L1891.7 963.5 L1892.4 963.0 L1893.2 962.4 L1893.9 961.9 L1894.7 961.4 L1895.4 960.8 L1896.2 960.3 L1896.9 959.8 L1897.7 959.2 L1898.4 958.7 L1899.2 958.1 L1899.9 957.6 L1900.7 957.0 L1901.4 956.4 L1902.2 955.9 L1903.0 955.3 L1903.7 954.7 L1904.1 954.4 M1928.5 933.0 L1928.7 932.9 L1929.5 932.1 L1930.2 931.3 L1931.0 930.6 L1931.7 929.8 L1932.5 929.0 L1933.2 928.2 L1934.0 927.5 L1934.7 926.7 L1935.5 925.9 L1936.2 925.0 L1937.0 924.2 L1937.7 923.4 L1938.5 922.6 L1939.2 921.7 L1940.0 920.9 L1940.8 920.0 L1941.5 919.2 L1942.3 918.3 L1943.0 917.4 L1943.8 916.5 L1944.5 915.6 L1945.3 914.7 L1946.0 913.8 L1946.8 912.9 L1947.5 912.0 L1948.3 911.0 L1948.5 910.7" fill="none" stroke="#f02834" stroke-width="4.6" stroke-linecap="butt" stroke-linejoin="round"/>
<circle cx="523.3" cy="1513.0" r="17.6" fill="#ff0000"/>
<circle cx="598.5" cy="1524.8" r="17.6" fill="#ff0000"/>
<circle cx="673.8" cy="1320.4" r="17.6" fill="#ff0000"/>
<circle cx="749.0" cy="856.5" r="17.6" fill="#ff0000"/>
<circle cx="824.2" cy="945.8" r="17.6" fill="#ff0000"/>
<circle cx="899.5" cy="992.9" r="17.6" fill="#ff0000"/>
<circle cx="974.7" cy="983.4" r="17.6" fill="#ff0000"/>
<circle cx="1049.9" cy="1074.9" r="17.6" fill="#ff0000"/>
<circle cx="1125.1" cy="1106.8" r="17.6" fill="#ff0000"/>
<circle cx="1200.3" cy="364.9" r="17.6" fill="#ff0000"/>
<circle cx="1275.6" cy="969.0" r="17.6" fill="#ff0000"/>
<circle cx="1350.8" cy="921.0" r="17.6" fill="#ff0000"/>
<circle cx="1426.0" cy="300.6" r="17.6" fill="#ff0000"/>
<circle cx="1501.2" cy="181.8" r="17.6" fill="#ff0000"/>
<circle cx="1576.5" cy="91.9" r="17.6" fill="#ff0000"/>
<circle cx="1651.7" cy="1074.7" r="17.6" fill="#ff0000"/>
<circle cx="1726.9" cy="851.7" r="17.6" fill="#ff0000"/>
<circle cx="1802.1" cy="978.5" r="17.6" fill="#ff0000"/>
<circle cx="1877.4" cy="972.9" r="17.6" fill="#ff0000"/>
<circle cx="1952.6" cy="905.5" r="17.6" fill="#ff0000"/>
<path d="M297.7 1439.2 L297.8 1439.5 L298.6 1440.8 L299.3 1442.1 L300.1 1443.4 L300.8 1444.7 L301.6 1446.0 L302.4 1447.3 L303.1 1448.5 L303.9 1449.8 L304.6 1451.1 L305.4 1452.3 L306.1 1453.5 L306.9 1454.8 L307.6 1456.0 L308.4 1457.2 L309.1 1458.4 L309.9 1459.6 L310.6 1460.8 L311.0 1461.4 M330.7 1488.3 L330.7 1488.4 L331.5 1489.2 L332.3 1490.1 L333.0 1490.9 L333.8 1491.7 L334.5 1492.5 L335.3 1493.2 L336.0 1494.0 L336.8 1494.7 L337.5 1495.4 L338.3 1496.1 L339.0 1496.8 L339.8 1497.5 L340.5 1498.1 L341.3 1498.7 L342.0 1499.3 L342.8 1499.9 L343.5 1500.5 L344.3 1501.0 L345.0 1501.6 L345.8 1502.1 L346.5 1502.6 L347.3 1503.0 L348.1 1503.5 L348.8 1503.9 L349.6 1504.3 L350.3 1504.7 L351.1 1505.1 L351.8 1505.4 L352.6 1505.7 L353.3 1506.0 L354.1 1506.3 L354.2 1506.4 M383.3 1499.0 L383.4 1498.9 L384.2 1498.3 L384.9 1497.8 L385.7 1497.2 L386.4 1496.6 L387.2 1496.0 L387.9 1495.4 L388.7 1494.8 L389.4 1494.2 L390.2 1493.6 L390.9 1492.9 L391.7 1492.3 L392.4 1491.6 L393.2 1491.0 L393.9 1490.3 L394.7 1489.6 L395.4 1489.0 L396.2 1488.3 L396.9 1487.6 L397.7 1486.9 L398.5 1486.2 L399.2 1485.5 L400.0 1484.8 L400.7 1484.1 L401.5 1483.3 L402.2 1482.6 L403.0 1481.9 L403.7 1481.1 L404.5 1480.4 L405.2 1479.7 L405.7 1479.1 M427.0 1458.1 L427.2 1457.9 L428.0 1457.2 L428.7 1456.5 L429.5 1455.9 L430.2 1455.2 L431.0 1454.5 L431.7 1453.8 L432.5 1453.2 L433.2 1452.5 L434.0 1451.9 L434.7 1451.2 L435.5 1450.6 L436.3 1450.0 L437.0 1449.4 L437.8 1448.8 L438.5 1448.2 L439.3 1447.6 L440.0 1447.0 L440.8 1446.4 L441.5 1445.9 L442.3 1445.3 L443.0 1444.8 L443.8 1444.3 L444.5 1443.8 L445.3 1443.3 L446.0 1442.8 L446.8 1442.3 L447.5 1441.8 L448.3 1441.4 L449.0 1440.9 L449.8 1440.5 L450.5 1440.1 L450.8 1439.9 M481.8 1425.6 L482.0 1425.6 L482.7 1425.3 L483.5 1425.0 L484.2 1424.7 L485.0 1424.4 L485.7 1424.2 L486.5 1423.9 L487.2 1423.6 L488.0 1423.4 L488.7 1423.1 L489.5 1422.8 L490.2 1422.6 L491.0 1422.3 L491.7 1422.1 L492.5 1421.8 L493.2 1421.6 L494.0 1421.3 L494.7 1421.1 L495.5 1420.8 L496.2 1420.6 L497.0 1420.3 L497.7 1420.1 L498.5 1419.8 L499.3 1419.6 L500.0 1419.3 L500.8 1419.1 L501.5 1418.9 L502.3 1418.6 L503.0 1418.4 L503.8 1418.1 L504.5 1417.9 L505.3 1417.7 L506.0 1417.4 L506.8 1417.2 L507.5 1417.0 L508.3 1416.7 L509.0 1416.5 L509.8 1416.3 L510.3 1416.1 M536.9 1415.9 L537.1 1416.0 L537.8 1416.6 L538.6 1417.3 L539.3 1418.0 L540.1 1418.7 L540.8 1419.5 L541.6 1420.3 L542.3 1421.1 L543.1 1421.9 L543.8 1422.8 L544.6 1423.7 L545.3 1424.6 L546.1 1425.6 L546.8 1426.5 L547.6 1427.5 L548.3 1428.5 L549.1 1429.6 L549.8 1430.6 L550.6 1431.7 L551.3 1432.8 L552.1 1433.9 L552.9 1435.0 L553.6 1436.1 L554.4 1437.2 L555.1 1438.4 L555.6 1439.2 M571.8 1464.3 L572.0 1464.6 L572.8 1465.7 L573.5 1466.7 L574.3 1467.8 L575.0 1468.8 L575.8 1469.8 L576.5 1470.8 L577.3 1471.7 L578.1 1472.7 L578.8 1473.6 L579.6 1474.5 L580.3 1475.3 L581.1 1476.2 L581.8 1477.0 L582.6 1477.8 L583.3 1478.5 L584.1 1479.2 L584.8 1479.9 L585.6 1480.6 L586.3 1481.2 L587.1 1481.7 L587.8 1482.3 L588.6 1482.8 L589.3 1483.2 L590.1 1483.6 L590.8 1484.0 L591.6 1484.4 L592.3 1484.6 L593.0 1484.9 M610.3 1451.6 L610.4 1451.4 L611.2 1447.4 L611.9 1443.2 L612.7 1438.8 L613.4 1434.2 L614.2 1429.5 L614.9 1424.6 L615.3 1422.1 M619.7 1389.9 L619.8 1389.0 L620.6 1383.0 L621.3 1376.9 L622.1 1370.7 L622.8 1364.3 L623.3 1360.2 M627.0 1326.9 L627.1 1326.1 L627.9 1319.2 L628.6 1312.2 L629.4 1305.1 L630.1 1298.0 L630.2 1297.1 M633.5 1265.8 L633.5 1265.5 L634.3 1258.2 L635.0 1250.9 L635.8 1243.5 L636.5 1236.2 L636.6 1235.9 M640.0 1202.7 L640.1 1201.4 L640.9 1194.1 L641.6 1186.8 L642.4 1179.6 L643.1 1172.9 M646.4 1141.4 L646.5 1140.8 L647.3 1133.9 L648.0 1127.2 L648.8 1120.5 L649.5 1113.9 L649.8 1111.6 M653.6 1079.5 L653.7 1079.4 L654.4 1073.5 L655.2 1067.7 L655.9 1062.1 L656.7 1056.6 L657.4 1051.3 L657.6 1049.8 M662.9 1017.5 L663.1 1016.5 L663.8 1012.6 L664.6 1008.9 L665.3 1005.5 L666.1 1002.2 L666.8 999.2 L667.6 996.4 L668.3 993.8 L669.1 991.4 L669.8 989.3 L670.2 988.4 M689.4 983.8 L689.4 983.9 L690.1 984.5 L690.9 985.3 L691.6 986.0 L692.4 986.8 L693.1 987.7 L693.9 988.6 L694.6 989.5 L695.4 990.5 L696.2 991.5 L696.9 992.5 L697.7 993.6 L698.4 994.7 L699.2 995.8 L699.9 996.9 L700.7 998.1 L701.4 999.3 L702.2 1000.5 L702.9 1001.7 L703.7 1002.9 L704.4 1004.2 L705.2 1005.5 L705.9 1006.8 L706.7 1008.1 L706.8 1008.2 M723.0 1036.0 L723.2 1036.3 L724.0 1037.5 L724.7 1038.6 L725.5 1039.6 L726.2 1040.7 L727.0 1041.7 L727.7 1042.7 L728.5 1043.6 L729.3 1044.5 L730.0 1045.4 L730.8 1046.2 L731.5 1047.0 L732.3 1047.8 L733.0 1048.5 L733.8 1049.1 L734.5 1049.8 L735.3 1050.3 L736.0 1050.8 L736.8 1051.3 L737.5 1051.7 L738.3 1052.1 L739.0 1052.4 L739.8 1052.6 L740.5 1052.8 L741.3 1052.9 L742.0 1053.0 L742.8 1053.0 L743.5 1052.9 L744.3 1052.8 L745.1 1052.6 L745.7 1052.4 M767.1 1023.3 L767.2 1022.9 L768.0 1021.4 L768.7 1019.9 L769.5 1018.3 L770.3 1016.7 L771.0 1015.2 L771.8 1013.6 L772.5 1012.0 L773.3 1010.4 L774.0 1008.7 L774.8 1007.1 L775.5 1005.5 L776.3 1003.8 L777.0 1002.2 L777.8 1000.5 L778.5 998.9 L779.3 997.2 L779.8 996.1 M793.9 966.9 L793.9 966.7 L794.7 965.4 L795.5 964.0 L796.2 962.7 L797.0 961.4 L797.7 960.1 L798.5 958.9 L799.2 957.7 L800.0 956.6 L800.7 955.5 L801.5 954.4 L802.2 953.3 L803.0 952.3 L803.7 951.4 L804.5 950.5 L805.2 949.6 L806.0 948.8 L806.7 948.0 L807.5 947.3 L808.2 946.6 L809.0 946.0 L809.7 945.4 L810.5 944.9 L811.2 944.4 L812.0 944.0 L812.4 943.8 M834.5 956.4 L834.6 956.4 L835.3 957.1 L836.1 957.9 L836.8 958.6 L837.6 959.3 L838.3 960.1 L839.1 960.8 L839.8 961.5 L840.6 962.3 L841.3 963.0 L842.1 963.7 L842.8 964.5 L843.6 965.2 L844.3 965.9 L845.1 966.7 L845.9 967.4 L846.6 968.1 L847.4 968.9 L848.1 969.6 L848.9 970.3 L849.6 971.1 L850.4 971.8 L851.1 972.6 L851.9 973.3 L852.6 974.0 L853.4 974.8 L854.1 975.5 L854.9 976.2 L855.6 977.0 L856.0 977.3 M879.9 1000.8 L880.1 1001.0 L880.8 1001.7 L881.6 1002.4 L882.3 1003.2 L883.1 1003.9 L883.8 1004.7 L884.6 1005.4 L885.3 1006.1 L886.1 1006.9 L886.8 1007.6 L887.6 1008.3 L888.4 1009.1 L889.1 1009.8 L889.9 1010.6 L890.6 1011.3 L891.4 1012.0 L892.1 1012.8 L892.9 1013.5 L893.6 1014.3 L894.4 1015.0 L895.1 1015.7 L895.9 1016.5 L896.6 1017.2 L897.4 1018.0 L898.1 1018.7 L898.9 1019.4 L899.6 1020.2 L900.4 1020.9 L901.1 1021.7 L901.3 1021.8 M924.7 1044.9 L924.8 1045.1 L925.6 1045.8 L926.3 1046.6 L927.1 1047.3 L927.8 1048.0 L928.6 1048.8 L929.4 1049.5 L930.1 1050.3 L930.9 1051.0 L931.6 1051.8 L932.4 1052.5 L933.1 1053.3 L933.9 1054.0 L934.6 1054.8 L935.4 1055.5 L936.1 1056.2 L936.9 1057.0 L937.6 1057.7 L938.4 1058.5 L939.1 1059.2 L939.9 1060.0 L940.6 1060.7 L941.4 1061.5 L942.1 1062.2 L942.9 1063.0 L943.6 1063.7 L944.4 1064.5 L945.1 1065.2 L945.9 1065.9 L946.0 1066.1 M970.3 1090.0 L970.3 1090.1 L971.1 1090.8 L971.9 1091.6 L972.6 1092.3 L973.4 1093.1 L974.1 1093.8 L974.9 1094.5 L975.6 1095.2 L976.4 1095.7 L977.1 1096.2 L977.9 1096.6 L978.6 1096.8 L979.4 1097.0 L980.1 1097.1 L980.9 1097.0 L981.6 1096.9 L982.4 1096.7 L983.1 1096.4 L983.9 1096.1 L984.6 1095.6 L985.4 1095.1 L986.1 1094.5 L986.9 1093.8 L987.7 1093.0 L988.4 1092.2 L989.2 1091.3 L989.9 1090.3 L990.7 1089.2 L991.4 1088.1 L992.2 1087.0 L992.8 1085.9 M1006.6 1054.8 L1006.6 1054.6 L1007.4 1052.6 L1008.2 1050.5 L1008.9 1048.4 L1009.7 1046.3 L1010.4 1044.1 L1011.2 1042.0 L1011.9 1039.8 L1012.7 1037.7 L1013.4 1035.5 L1014.2 1033.3 L1014.9 1031.1 L1015.7 1028.9 L1016.4 1026.7 L1016.5 1026.5 M1021.1 1013.0 L1021.1 1012.9 L1021.9 1010.8 L1022.6 1008.6 L1023.4 1006.5 L1024.1 1004.4 L1024.9 1002.3 L1025.6 1000.2 L1026.4 998.1 L1027.1 996.1 L1027.9 994.1 L1028.6 992.1 L1029.4 990.2 L1030.2 988.2 L1030.9 986.4 L1031.5 984.8 M1046.2 958.5 L1046.3 958.4 L1047.1 957.7 L1047.8 957.1 L1048.6 956.6 L1049.3 956.1 L1050.1 955.7 L1050.8 955.5 L1051.6 955.4 L1052.3 955.5 L1053.1 955.8 L1053.8 956.2 L1054.6 956.7 L1055.4 957.4 L1056.1 958.2 L1056.9 959.2 L1057.6 960.2 L1058.4 961.5 L1059.1 962.8 L1059.9 964.3 L1060.6 965.9 L1061.4 967.6 L1062.1 969.4 L1062.9 971.3 L1063.6 973.3 L1064.0 974.5 M1072.4 1003.7 L1072.5 1003.8 L1073.2 1006.8 L1074.0 1009.9 L1074.7 1013.1 L1075.5 1016.3 L1076.2 1019.5 L1077.0 1022.8 L1077.7 1026.2 L1078.5 1029.5 L1079.2 1032.9 M1086.2 1065.2 L1086.4 1066.1 L1087.1 1069.6 L1087.9 1073.1 L1088.6 1076.6 L1089.4 1080.0 L1090.1 1083.5 L1090.9 1086.9 L1091.6 1090.3 L1092.4 1093.7 L1092.6 1094.5 M1100.0 1125.2 L1100.1 1125.6 L1100.9 1128.3 L1101.6 1131.0 L1102.4 1133.7 L1103.1 1136.2 L1103.9 1138.7 L1104.6 1141.0 L1105.4 1143.3 L1106.1 1145.5 L1106.9 1147.6 L1107.6 1149.5 L1108.4 1151.4 L1109.1 1153.2 L1109.4 1153.7 M1130.2 1146.5 L1130.2 1146.4 L1131.0 1144.5 L1131.7 1142.4 L1132.5 1140.3 L1133.2 1138.1 L1134.0 1135.8 L1134.7 1133.5 L1135.5 1131.2 L1136.2 1128.8 L1137.0 1126.3 L1137.7 1123.8 L1138.5 1121.2 L1139.2 1118.6 L1139.4 1118.0 M1148.0 1084.8 L1148.1 1084.7 L1148.8 1081.6 L1149.6 1078.5 L1150.3 1075.3 L1151.1 1072.1 L1151.8 1068.9 L1152.6 1065.6 L1153.3 1062.3 L1154.1 1059.0 L1154.8 1055.7 L1154.9 1055.6 M1161.8 1024.2 L1162.0 1023.4 L1162.7 1020.0 L1163.5 1016.5 L1164.2 1013.0 L1165.0 1009.6 L1165.7 1006.1 L1166.5 1002.6 L1167.3 999.2 L1168.0 995.7 L1168.2 994.9 M1175.3 962.5 L1175.3 962.5 L1176.1 959.2 L1176.8 955.9 L1177.6 952.6 L1178.3 949.3 L1179.1 946.1 L1179.9 942.8 L1180.6 939.7 L1181.4 936.5 L1182.1 933.4 L1182.1 933.3 M1190.4 901.2 L1190.4 901.2 L1191.1 898.5 L1191.9 895.9 L1192.6 893.3 L1193.4 890.8 L1194.1 888.3 L1194.9 885.9 L1195.6 883.5 L1196.4 881.2 L1197.2 879.0 L1197.9 876.8 L1198.7 874.6 L1199.4 872.6 M1211.1 842.6 L1211.1 842.5 L1211.8 840.7 L1212.6 838.8 L1213.3 836.9 L1214.1 835.0 L1214.8 833.2 L1215.6 831.3 L1216.3 829.5 L1217.1 827.6 L1217.8 825.8 L1218.6 824.0 L1219.3 822.2 L1220.1 820.4 L1220.8 818.6 L1221.6 816.8 L1222.4 815.0 L1222.4 814.8 M1235.4 785.3 L1235.5 785.1 L1236.3 783.5 L1237.0 781.9 L1237.8 780.3 L1238.5 778.7 L1239.3 777.1 L1240.0 775.5 L1240.8 774.0 L1241.5 772.4 L1242.3 770.9 L1243.0 769.4 L1243.8 767.9 L1244.5 766.4 L1245.3 764.9 L1246.0 763.4 L1246.8 761.9 L1247.6 760.5 L1248.3 759.0 L1248.6 758.4 M1262.6 733.8 L1262.8 733.6 L1263.5 732.4 L1264.3 731.3 L1265.0 730.1 L1265.8 729.0 L1266.5 727.8 L1267.3 726.7 L1268.1 725.6 L1268.8 724.5 L1269.6 723.5 L1270.3 722.4 L1271.1 721.4 L1271.8 720.3 L1272.6 719.3 L1273.3 718.3 L1274.1 717.4 L1274.8 716.4 L1275.6 715.5 L1276.3 714.5 L1277.1 713.7 L1277.8 712.8 L1278.6 712.0 L1279.3 711.3 L1280.1 710.6 L1280.7 710.0 M1306.4 708.6 L1306.6 708.7 L1307.4 709.3 L1308.1 709.9 L1308.9 710.5 L1309.6 711.1 L1310.4 711.8 L1311.1 712.5 L1311.9 713.3 L1312.6 714.1 L1313.4 714.9 L1314.1 715.7 L1314.9 716.6 L1315.6 717.5 L1316.4 718.4 L1317.1 719.3 L1317.9 720.3 L1318.6 721.3 L1319.4 722.3 L1320.1 723.4 L1320.9 724.5 L1321.7 725.6 L1322.4 726.8 L1323.2 727.9 L1323.9 729.1 L1324.7 730.3 L1325.4 731.6 M1340.5 761.6 L1340.6 762.1 L1341.4 763.8 L1342.1 765.6 L1342.9 767.4 L1343.7 769.2 L1344.4 771.0 L1345.2 772.8 L1345.9 774.7 L1346.7 776.6 L1347.4 778.5 L1348.2 780.4 L1348.9 782.4 L1349.7 784.3 L1350.4 786.3 L1351.2 788.3 L1351.6 789.5 M1359.6 821.9 L1359.6 821.9 L1360.4 825.8 L1361.1 829.8 L1361.9 833.9 L1362.6 838.1 L1363.4 842.5 L1364.2 847.0 L1364.9 851.4 M1369.7 882.9 L1369.8 883.6 L1370.5 888.8 L1371.3 894.2 L1372.1 899.6 L1372.8 905.0 L1373.6 910.5 L1373.8 912.6 M1378.2 946.2 L1378.3 946.3 L1379.0 952.1 L1379.8 958.0 L1380.5 964.0 L1381.3 969.9 L1382.0 975.9 L1382.0 975.9 M1386.1 1008.2 L1386.2 1008.9 L1386.9 1014.9 L1387.7 1020.8 L1388.4 1026.8 L1389.2 1032.8 L1389.8 1037.9 M1393.9 1069.9 L1394.1 1070.8 L1394.8 1076.5 L1395.6 1082.2 L1396.3 1087.8 L1397.1 1093.3 L1397.8 1098.8 L1397.9 1099.7 M1402.6 1131.7 L1402.7 1132.6 L1403.5 1137.5 L1404.2 1142.3 L1405.0 1147.0 L1405.7 1151.6 L1406.5 1156.1 L1407.2 1160.5 L1407.4 1161.3 M1413.6 1192.7 L1413.8 1193.5 L1414.6 1196.6 L1415.3 1199.5 L1416.1 1202.3 L1416.8 1204.9 L1417.6 1207.4 L1418.3 1209.7 L1419.1 1211.8 L1419.8 1213.8 L1420.6 1215.6 L1421.3 1217.2 L1422.1 1218.6 L1422.8 1219.8 L1423.6 1220.8 M1453.1 1230.2 L1453.1 1230.2 L1453.9 1230.4 L1454.6 1230.6 L1455.4 1230.8 L1456.1 1230.9 L1456.9 1231.1 L1457.6 1231.3 L1458.4 1231.4 L1459.1 1231.6 L1459.9 1231.8 L1460.6 1232.0 L1461.4 1232.1 L1462.1 1232.3 L1462.9 1232.5 L1463.6 1232.6 L1464.4 1232.8 L1465.1 1233.0 L1465.9 1233.1 L1466.6 1233.3 L1467.4 1233.5 L1468.2 1233.6 L1468.9 1233.8 L1469.7 1234.0 L1470.4 1234.1 L1471.2 1234.3 L1471.9 1234.5 L1472.7 1234.7 L1473.4 1234.8 L1474.2 1235.0 L1474.9 1235.2 L1475.7 1235.3 L1476.4 1235.5 L1477.2 1235.7 L1477.9 1235.9 L1478.7 1236.1 L1479.4 1236.2 L1480.2 1236.4 L1480.9 1236.6 L1481.7 1236.8 L1482.3 1236.9 M1518.4 1247.9 L1518.6 1248.0 L1519.3 1248.2 L1520.1 1248.4 L1520.8 1248.7 L1521.6 1248.9 L1522.3 1249.2 L1523.1 1249.4 L1523.8 1249.6 L1524.6 1249.9 L1525.3 1250.1 L1526.1 1250.4 L1526.8 1250.6 L1527.6 1250.9 L1528.3 1251.1 L1529.1 1251.3 L1529.8 1251.6 L1530.6 1251.8 L1531.3 1252.1 L1532.1 1252.3 L1532.8 1252.5 L1533.6 1252.8 L1534.3 1253.0 L1535.1 1253.3 L1535.9 1253.5 L1536.6 1253.7 L1537.4 1254.0 L1538.1 1254.2 L1538.9 1254.5 L1539.6 1254.7 L1540.4 1255.0 L1541.1 1255.2 L1541.9 1255.5 L1542.6 1255.7 L1543.4 1255.9 L1544.1 1256.2 L1544.9 1256.4 L1545.6 1256.7 L1546.4 1256.9 L1546.9 1257.1" fill="none" stroke="#1464f0" stroke-width="4.6" stroke-linecap="butt" stroke-linejoin="round"/>
<path d="M297.7 1416.2L317.7 1450.7L277.7 1450.7Z" fill="#00ff00"/>
<path d="M372.9 1482.3L392.9 1516.8L352.9 1516.8Z" fill="#00ff00"/>
<path d="M448.1 1418.5L468.1 1453.0L428.1 1453.0Z" fill="#00ff00"/>
<path d="M523.3 1389.1L543.3 1423.6L503.3 1423.6Z" fill="#00ff00"/>
<path d="M598.5 1462.2L618.5 1496.7L578.5 1496.7Z" fill="#00ff00"/>
<path d="M673.8 959.4L693.8 993.9L653.8 993.9Z" fill="#00ff00"/>
<path d="M749.0 1027.3L769.0 1061.8L729.0 1061.8Z" fill="#00ff00"/>
<path d="M824.2 923.4L844.2 957.9L804.2 957.9Z" fill="#00ff00"/>
<path d="M899.5 997.0L919.5 1031.5L879.5 1031.5Z" fill="#00ff00"/>
<path d="M974.7 1071.4L994.7 1105.9L954.7 1105.9Z" fill="#00ff00"/>
<path d="M1049.9 932.8L1069.9 967.3L1029.9 967.3Z" fill="#00ff00"/>
<path d="M1125.1 1135.2L1145.1 1169.7L1105.1 1169.7Z" fill="#00ff00"/>
<path d="M1200.3 847.0L1220.3 881.5L1180.3 881.5Z" fill="#00ff00"/>
<path d="M1275.6 692.5L1295.6 727.0L1255.6 727.0Z" fill="#00ff00"/>
<path d="M1350.8 764.3L1370.8 798.8L1330.8 798.8Z" fill="#00ff00"/>
<path d="M1426.0 1199.7L1446.0 1234.2L1406.0 1234.2Z" fill="#00ff00"/>
<path d="M1501.2 1219.3L1521.2 1253.8L1481.2 1253.8Z" fill="#00ff00"/>
<path d="M1576.5 1244.3L1596.5 1278.8L1556.5 1278.8Z" fill="#00ff00"/>
<path d="M769 1355.3H808M848 1355.3H889.4M928.5 1355.3H952.6" stroke="#3c3c3c" stroke-width="5.2" stroke-linecap="butt"/>
<rect x="840" y="1338.5" width="38.5" height="32.5" fill="#000000"/>
<text x="964.2" y="1376.3" font-size="61.3" textLength="1273" lengthAdjust="spacingAndGlyphs" fill="#000">70%NiCrBSi+30%WC without the bottom layer</text>
<path d="M769 1441.2H808M848 1441.2H889.4M928.5 1441.2H952.6" stroke="#f02834" stroke-width="5.2" stroke-linecap="butt"/>
<ellipse cx="860" cy="1441.3" rx="23" ry="19.7" fill="#ff0000"/>
<text x="964.2" y="1462.2" font-size="61.3" textLength="1188" lengthAdjust="spacingAndGlyphs" fill="#000">70%NiCrBSi+30%WC with the bottom layer</text>
<path d="M769 1528.1H808M848 1528.1H889.4M928.5 1528.1H952.6" stroke="#1464f0" stroke-width="5.2" stroke-linecap="butt"/>
<path d="M860.5 1503 L886 1542 L835 1542Z" fill="#00ff00"/>
<text x="966" y="1549.1" font-size="61.3" textLength="1186.5" lengthAdjust="spacingAndGlyphs" fill="#000">40%NiCrBSi+60%WC with the bottom layer</text>
<rect x="267.5" y="53.5" width="1987.0" height="1604.0" fill="none" stroke="#000" stroke-width="7"/>
<rect x="270" y="53.3" width="478.3" height="1599.1" fill="rgb(249,128,134)" fill-opacity="0.165"/>
<rect x="748.3" y="53.3" width="1503.2" height="1596.5" fill="rgb(0,159,228)" fill-opacity="0.145"/>
<text x="381.5" y="566" font-size="60" textLength="252" lengthAdjust="spacingAndGlyphs" fill="#000">Substrate</text>
<text x="234.5" y="1678.6" font-size="70" text-anchor="end" fill="#000">100</text>
<text x="234.5" y="1500.3" font-size="70" text-anchor="end" fill="#000">200</text>
<text x="234.5" y="1322.0" font-size="70" text-anchor="end" fill="#000">300</text>
<text x="234.5" y="1143.7" font-size="70" text-anchor="end" fill="#000">400</text>
<text x="234.5" y="965.4" font-size="70" text-anchor="end" fill="#000">500</text>
<text x="234.5" y="787.1" font-size="70" text-anchor="end" fill="#000">600</text>
<text x="234.5" y="608.8" font-size="70" text-anchor="end" fill="#000">700</text>
<text x="234.5" y="430.5" font-size="70" text-anchor="end" fill="#000">800</text>
<text x="234.5" y="252.2" font-size="70" text-anchor="end" fill="#000">900</text>
<text x="234.5" y="73.9" font-size="70" text-anchor="end" fill="#000">1000</text>
<text x="445.6" y="1745.5" font-size="70" text-anchor="middle" fill="#000">-2</text>
<text x="749.0" y="1745.5" font-size="70" text-anchor="middle" fill="#000">0</text>
<text x="1049.9" y="1745.5" font-size="70" text-anchor="middle" fill="#000">2</text>
<text x="1350.8" y="1745.5" font-size="70" text-anchor="middle" fill="#000">4</text>
<text x="1651.7" y="1745.5" font-size="70" text-anchor="middle" fill="#000">6</text>
<text x="1952.6" y="1745.5" font-size="70" text-anchor="middle" fill="#000">8</text>
<text x="2253.5" y="1745.5" font-size="70" text-anchor="middle" fill="#000">10</text>
<text x="974" y="1854" font-size="88.5" fill="#000">Distance/mm</text>
<text transform="translate(79.7 1086) rotate(-90)" font-size="89" fill="#000">Hardness/HV<tspan font-size="55.8" dy="12">1N</tspan></text>
</g></svg></body></html>
